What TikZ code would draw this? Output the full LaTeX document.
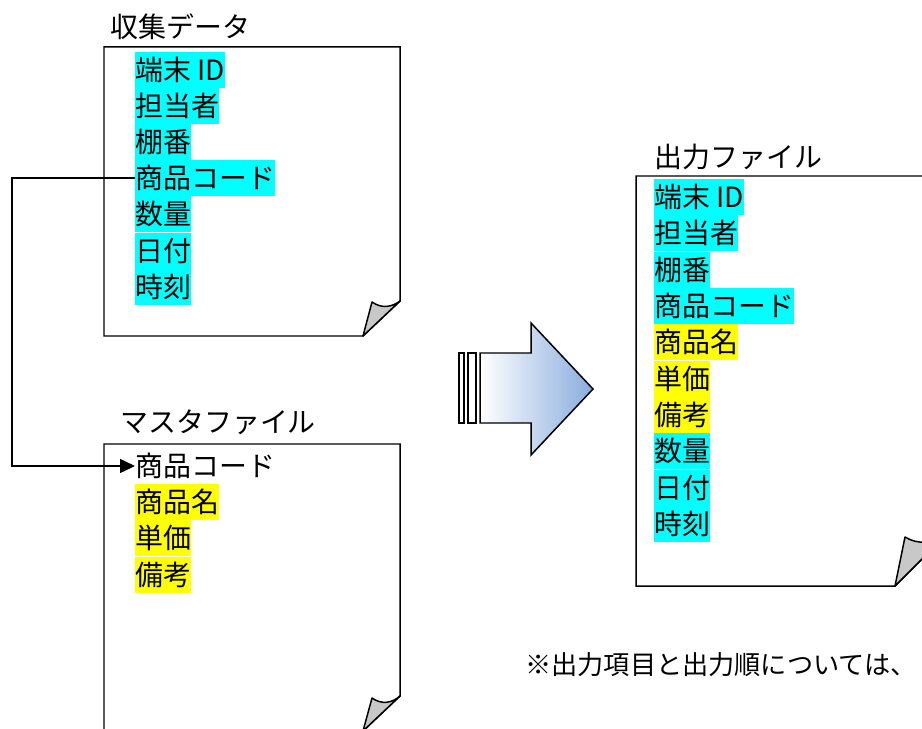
\documentclass[tikz,border=0pt]{standalone}
\usepackage{fontspec}
\setmainfont{Noto Sans CJK JP}
\usepackage{xcolor}
\usepackage{tikz}
\usetikzlibrary{
    arrows.meta
}
\definecolor{hlcyan}{RGB}{0,255,255}
\definecolor{hlyellow}{RGB}{255,255,0}
\definecolor{curlgray}{RGB}{200,200,200}
\definecolor{arrowblue}{RGB}{137,172,222}
\tikzstyle{item} = [
    anchor=west,
    inner sep=0pt,
    minimum height=0.726cm,
    font=\fontsize{15.9}{19}\selectfont
]
\tikzstyle{cyanitem} = [item, fill=hlcyan]
\tikzstyle{yellowitem} = [item, fill=hlyellow]
\tikzstyle{sheet} = [
    line width=0.85pt,
    fill=white
]
\tikzstyle{curl} = [
    line width=0.85pt,
    fill=curlgray,
    line join=round
]
\tikzstyle{link} = [
    line width=0.85pt,
    -{Triangle[length=0.3cm,width=0.28cm]}
]

\begin{document}
\begin{tikzpicture}[x=0.02cm, y=-0.02cm]
    \useasboundingbox (0,0) rectangle (922,729);
    \clip (0,0) rectangle (922,729);

    % collected data sheet
    \draw[sheet] (104,47) -- (400,47) -- (400,301) -- (363,336) -- (104,336) -- cycle;
    \draw[curl] (363,336) -- (372,302) .. controls (382,309) and (392,307) .. (400,301) -- cycle;
    \node[item] (intitle) at (110,27) {収集データ};
    \node[cyanitem] (in1) at (135,70)  {端末 ID};
    \node[cyanitem] (in2) at (135,106) {担当者};
    \node[cyanitem] (in3) at (135,142) {棚番};
    \node[cyanitem] (in4) at (135,178) {商品コード};
    \node[cyanitem] (in5) at (135,214) {数量};
    \node[cyanitem] (in6) at (135,251) {日付};
    \node[cyanitem] (in7) at (135,287) {時刻};

    % master file sheet
    \draw[sheet] (104,444) -- (400,444) -- (400,696) -- (363,731) -- (104,731) -- cycle;
    \draw[curl] (363,731) -- (372,698) .. controls (382,705) and (392,703) .. (400,696) -- cycle;
    \node[item] (mstitle) at (120,422) {マスタファイル};
    \node[item] (ms1) at (135,466)       {商品コード};
    \node[yellowitem] (ms2) at (135,502) {商品名};
    \node[yellowitem] (ms3) at (135,538) {単価};
    \node[yellowitem] (ms4) at (135,575) {備考};

    % key link
    \coordinate (turn) at (12,320);
    \draw[link] (in4.west) -| (turn) |- (ms1.west);

    % big arrow
    \draw[line width=0.85pt, fill=white] (459,353) rectangle (464,423);
    \draw[line width=0.85pt, fill=white] (468,353) rectangle (476,423);
    \draw[line width=0.85pt, left color=white, right color=arrowblue]
        (480,353) -- (531,353) -- (531,323) -- (593,389) -- (531,455)
        -- (531,423) -- (480,423) -- cycle;

    % output file sheet
    \draw[sheet] (636,176) -- (945,176) -- (945,536) -- (895,586) -- (636,586) -- cycle;
    \draw[curl] (895,586) -- (905,537) .. controls (918,545) and (932,543) .. (945,536) -- cycle;
    \node[item] (outtitle) at (654,157) {出力ファイル};
    \node[cyanitem] (out1) at (654,197)    {端末 ID};
    \node[cyanitem] (out2) at (654,233)    {担当者};
    \node[cyanitem] (out3) at (654,270)    {棚番};
    \node[cyanitem] (out4) at (654,306)    {商品コード};
    \node[yellowitem] (out5) at (654,342)  {商品名};
    \node[yellowitem] (out6) at (654,379)  {単価};
    \node[yellowitem] (out7) at (654,415)  {備考};
    \node[cyanitem] (out8) at (654,451)    {数量};
    \node[cyanitem] (out9) at (654,488)    {日付};
    \node[cyanitem] (out10) at (654,524)   {時刻};

    % note
    \node[item, font=\fontsize{14.9}{18}\selectfont] (note) at (525,665) {※出力項目と出力順については、};
\end{tikzpicture}
\end{document}
